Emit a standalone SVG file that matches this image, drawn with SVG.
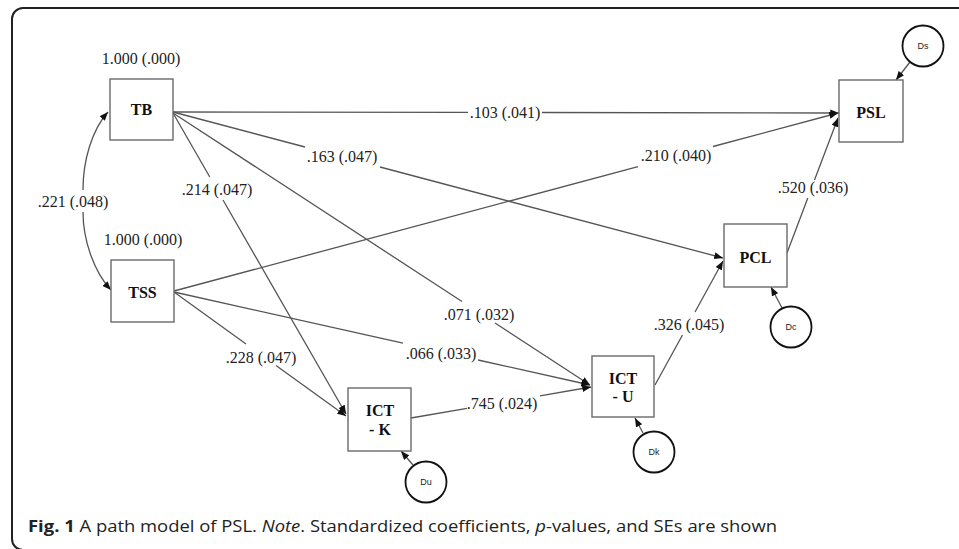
<svg xmlns="http://www.w3.org/2000/svg" width="959" height="549" viewBox="0 0 959 549">
  <style>
    .frame { fill: #fff; stroke: #222; stroke-width: 2; }
    .box { fill: #fff; stroke: #6a6a6a; stroke-width: 1.4; }
    .err { fill: #fff; stroke: #111; stroke-width: 1.8; }
    .edge { fill: none; stroke: #555; stroke-width: 1.3; marker-end: url(#arrow); }
    .node { font-family: "Liberation Serif", "Times New Roman", serif; font-weight: bold; font-size: 16px; fill: #111; text-anchor: middle; }
    .coef { font-family: "Liberation Serif", "Times New Roman", serif; font-size: 16px; fill: #222; text-anchor: middle; }
    .dist { font-family: "Liberation Sans", Arial, sans-serif; font-size: 9px; fill: #222; text-anchor: middle; }
    .cap { font-family: "Open Sans", "Noto Sans", sans-serif; font-size: 16px; fill: #222; }
  </style>
  <defs>
    <marker id="arrow" viewBox="0 0 10 8" refX="10" refY="4" markerWidth="9" markerHeight="7" markerUnits="userSpaceOnUse" orient="auto">
      <path d="M0,0 L10,4 L0,8 z" fill="#111"/>
    </marker>
  </defs>

  <!-- outer figure frame (runs past the right and bottom edges) -->
  <rect class="frame" x="12" y="8" width="960" height="542" rx="11"/>

  <!-- connectors: each path is broken where its coefficient label sits -->
  <g id="connectors">
    <path class="edge" d="M173,112 L468,112.4 M542,112.5 L839,113"/>
    <path class="edge" d="M173,112 L305,147 M380,167 L723,258"/>
    <path class="edge" d="M173,113 L209.8,177 M223,200 L346,414"/>
    <path class="edge" d="M173,113 L462,301.5 M495,323 L590,385"/>
    <path class="edge" d="M174,291 L638,166.6 M713,146.5 L838,113"/>
    <path class="edge" d="M174,292 L403,343.2 M478,360 L590,385"/>
    <path class="edge" d="M174,292 L246,344 M276,365.5 L346,416"/>
    <path class="edge" d="M411,418 L467,408.4 M540,395.8 L591,387"/>
    <path class="edge" d="M655,385 L682.5,335 M695,312 L723,261"/>
    <path class="edge" d="M787,253 L807.8,198 M814.5,180 L838,118"/>
    <!-- disturbance arrows -->
    <path class="edge" d="M910,62 L896,80"/>
    <path class="edge" d="M782,308 L771,287"/>
    <path class="edge" d="M643,433 L635,418"/>
    <path class="edge" d="M413,465 L401,451"/>
    <!-- covariance between TB and TSS -->
    <path class="edge" d="M83,190 C83,160 92,130 108,112"/>
    <path class="edge" d="M83,212 C83,240 94,272 111,290"/>
  </g>

  <!-- coefficient labels -->
  <g id="coefficients">
    <text class="coef" x="141" y="64">1.000 (.000)</text>
    <text class="coef" x="143" y="245">1.000 (.000)</text>
    <text class="coef" x="73" y="207">.221 (.048)</text>
    <text class="coef" x="505" y="118">.103 (.041)</text>
    <text class="coef" x="342" y="162">.163 (.047)</text>
    <text class="coef" x="217" y="195">.214 (.047)</text>
    <text class="coef" x="479" y="320">.071 (.032)</text>
    <text class="coef" x="676" y="161">.210 (.040)</text>
    <text class="coef" x="441" y="359">.066 (.033)</text>
    <text class="coef" x="261" y="363">.228 (.047)</text>
    <text class="coef" x="502" y="409">.745 (.024)</text>
    <text class="coef" x="689" y="330">.326 (.045)</text>
    <text class="coef" x="813" y="193">.520 (.036)</text>
  </g>

  <g id="TB">
    <rect class="box" x="110" y="79" width="63" height="61"/>
    <text class="node" x="141.5" y="115">TB</text>
  </g>
  <g id="TSS">
    <rect class="box" x="111" y="260" width="63" height="62"/>
    <text class="node" x="142.5" y="298">TSS</text>
  </g>
  <g id="PSL">
    <rect class="box" x="839" y="80" width="64" height="62"/>
    <text class="node" x="871" y="118">PSL</text>
  </g>
  <g id="PCL">
    <rect class="box" x="724" y="224" width="63" height="63"/>
    <text class="node" x="755.5" y="263">PCL</text>
  </g>
  <g id="ICT-K">
    <rect class="box" x="348" y="388" width="63" height="63"/>
    <text class="node" x="380" y="416">ICT</text>
    <text class="node" x="380" y="435">- K</text>
  </g>
  <g id="ICT-U">
    <rect class="box" x="592" y="356" width="62" height="61"/>
    <text class="node" x="623" y="384">ICT</text>
    <text class="node" x="623" y="402">- U</text>
  </g>

  <g id="Ds">
    <circle class="err" cx="923" cy="46" r="20.5"/>
    <text class="dist" x="923" y="49">Ds</text>
  </g>
  <g id="Dc">
    <circle class="err" cx="791" cy="327" r="20.5"/>
    <text class="dist" x="791" y="330">Dc</text>
  </g>
  <g id="Dk">
    <circle class="err" cx="654" cy="452" r="20.5"/>
    <text class="dist" x="654" y="455">Dk</text>
  </g>
  <g id="Du">
    <circle class="err" cx="426" cy="482" r="20.5"/>
    <text class="dist" x="426" y="485">Du</text>
  </g>

  <!-- caption -->
  <text class="cap" x="28" y="532" textLength="749" lengthAdjust="spacingAndGlyphs"><tspan font-weight="bold">Fig. 1</tspan> A path model of PSL. <tspan font-style="italic">Note</tspan>. Standardized coefficients, <tspan font-style="italic">p</tspan>-values, and SEs are shown</text>
</svg>
